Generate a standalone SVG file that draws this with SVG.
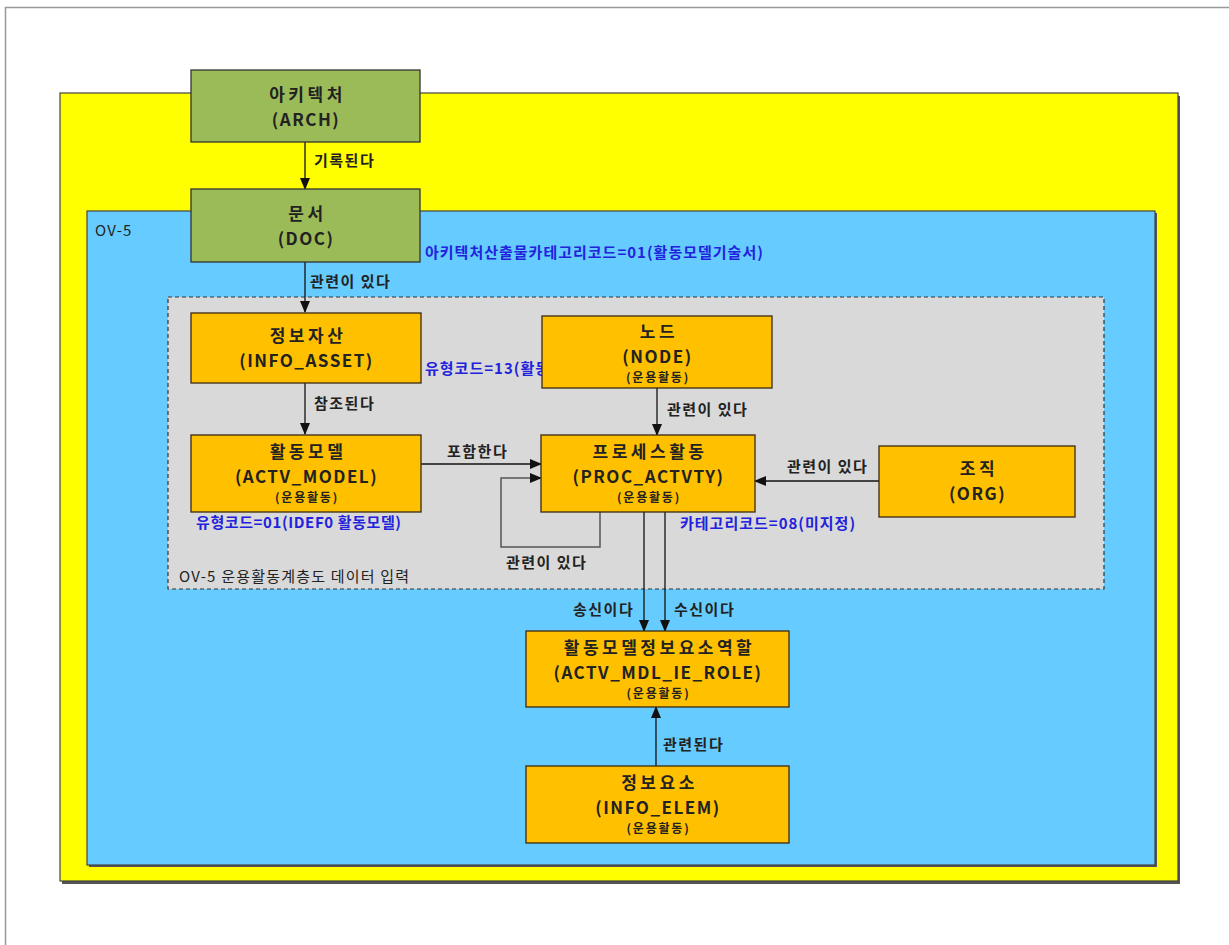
<svg xmlns="http://www.w3.org/2000/svg" width="1229" height="945" viewBox="0 0 1229 945">
<style>
text{font-family:"Noto Sans CJK KR","Noto Sans",sans-serif;}
.t{font-size:17px;font-weight:bold;fill:#222;text-anchor:middle;letter-spacing:1.5px;}
.k{letter-spacing:3.5px;}
.s{font-size:12px;font-weight:bold;fill:#222;text-anchor:middle;letter-spacing:1.8px;}
.e{font-size:15px;font-weight:bold;fill:#222;letter-spacing:1.5px;}
.n{font-size:15px;fill:#222;letter-spacing:1.2px;}
.b{font-size:15px;font-weight:bold;fill:#2222dd;letter-spacing:1px;}
.g{fill:#9BBB59;stroke:#333;stroke-width:1.3;}
.o{fill:#FFC000;stroke:#3a2a10;stroke-width:1.3;}
.c{fill:none;stroke:#111;stroke-width:1.3;}
.cg{fill:none;stroke:#555;stroke-width:1.5;}
</style>
<defs>
<marker id="ah" markerWidth="12" markerHeight="10" refX="11" refY="5" orient="auto" markerUnits="userSpaceOnUse">
<path d="M0,0 L12,5 L0,10 Z" fill="#111"/>
</marker>
</defs>
<rect width="1229" height="945" fill="#fff"/>
<path d="M5.5,945 V7.5 H1229" fill="none" stroke="#999" stroke-width="1.5"/>
<g id="containers">
<rect x="62" y="96" width="1118" height="788" fill="#555"/>
<rect x="60" y="93" width="1118" height="788" fill="#FFFF00" stroke="#444" stroke-width="1.2"/>
<rect x="89" y="213" width="1068" height="654" fill="#555"/>
<rect x="87" y="211" width="1068" height="654" fill="#66CCFF" stroke="#444" stroke-width="1.2"/>
<text x="95" y="236" class="n">OV-5</text>
<rect x="168" y="297" width="936" height="292" fill="#D9D9D9" stroke="#333" stroke-width="1.2" stroke-dasharray="4,3"/>
<text x="179" y="582" class="n">OV-5 운용활동계층도 데이터 입력</text>
</g>
<g id="connectors">
<line x1="305" y1="142" x2="305" y2="189" class="c" marker-end="url(#ah)"/>
<text x="314" y="166" class="e">기록된다</text>
<line x1="305" y1="262" x2="305" y2="312" class="c" marker-end="url(#ah)"/>
<text x="310" y="287" class="e">관련이 있다</text>
<line x1="305" y1="383" x2="305" y2="434" class="c" marker-end="url(#ah)"/>
<text x="314" y="409" class="e">참조된다</text>
<line x1="421" y1="464" x2="541" y2="464" class="c" marker-end="url(#ah)"/>
<text x="447" y="457" class="e">포함한다</text>
<path d="M600,512 V547 H501 V478 H541" class="cg" marker-end="url(#ah)"/>
<text x="506" y="568" class="e">관련이 있다</text>
<line x1="657" y1="388" x2="657" y2="435" class="c" marker-end="url(#ah)"/>
<text x="667" y="415" class="e">관련이 있다</text>
<line x1="879" y1="481" x2="755" y2="481" class="c" marker-end="url(#ah)"/>
<text x="787" y="472" class="e">관련이 있다</text>
<line x1="644" y1="512" x2="644" y2="631" class="c" marker-end="url(#ah)"/>
<line x1="665" y1="512" x2="665" y2="631" class="c" marker-end="url(#ah)"/>
<text x="573" y="615" class="e">송신이다</text>
<text x="674" y="615" class="e">수신이다</text>
<line x1="656" y1="766" x2="656" y2="707" class="c" marker-end="url(#ah)"/>
<text x="663" y="750" class="e">관련된다</text>
</g>
<g id="labels">
<text x="425" y="258" class="b">아키텍처산출물카테고리코드=01(활동모델기술서)</text>
<text x="425" y="374" class="b">유형코드=13(활동</text>
<text x="196" y="528" class="b" style="letter-spacing:0.6px">유형코드=01(IDEF0 활동모델)</text>
<text x="680" y="529" class="b">카테고리코드=08(미지정)</text>
</g>
<g id="ARCH">
<rect x="191" y="70" width="229" height="72" class="g"/>
<text x="307.5" y="101" class="t k">아키텍처</text>
<text x="306" y="126" class="t">(ARCH)</text>
</g>
<g id="DOC">
<rect x="191" y="189" width="229" height="73" class="g"/>
<text x="307.5" y="220" class="t k">문서</text>
<text x="306" y="245" class="t">(DOC)</text>
</g>
<g id="INFO_ASSET">
<rect x="191" y="313" width="230" height="70" class="o"/>
<text x="308" y="342" class="t k">정보자산</text>
<text x="306.5" y="367" class="t">(INFO_ASSET)</text>
</g>
<g id="NODE">
<rect x="542" y="316" width="230" height="72" class="o"/>
<text x="659" y="338" class="t k">노드</text>
<text x="657.5" y="363" class="t">(NODE)</text>
<text x="658" y="382" class="s">(운용활동)</text>
</g>
<g id="ACTV_MODEL">
<rect x="191" y="435" width="230" height="77" class="o"/>
<text x="308" y="458" class="t k">활동모델</text>
<text x="306.5" y="483" class="t">(ACTV_MODEL)</text>
<text x="307" y="502" class="s">(운용활동)</text>
</g>
<g id="PROC_ACTVTY">
<rect x="541" y="435" width="214" height="77" class="o"/>
<text x="650" y="458" class="t k">프로세스활동</text>
<text x="648.5" y="483" class="t">(PROC_ACTVTY)</text>
<text x="649" y="502" class="s">(운용활동)</text>
</g>
<g id="ORG">
<rect x="879" y="446" width="196" height="71" class="o"/>
<text x="979" y="475" class="t k">조직</text>
<text x="977.5" y="500" class="t">(ORG)</text>
</g>
<g id="ACTV_MDL_IE_ROLE">
<rect x="526" y="631" width="263" height="76" class="o"/>
<text x="659.5" y="654" class="t k">활동모델정보요소역할</text>
<text x="658" y="679" class="t">(ACTV_MDL_IE_ROLE)</text>
<text x="658.5" y="698" class="s">(운용활동)</text>
</g>
<g id="INFO_ELEM">
<rect x="526" y="766" width="263" height="77" class="o"/>
<text x="659.5" y="789" class="t k">정보요소</text>
<text x="658" y="814" class="t">(INFO_ELEM)</text>
<text x="658.5" y="833" class="s">(운용활동)</text>
</g>
</svg>
